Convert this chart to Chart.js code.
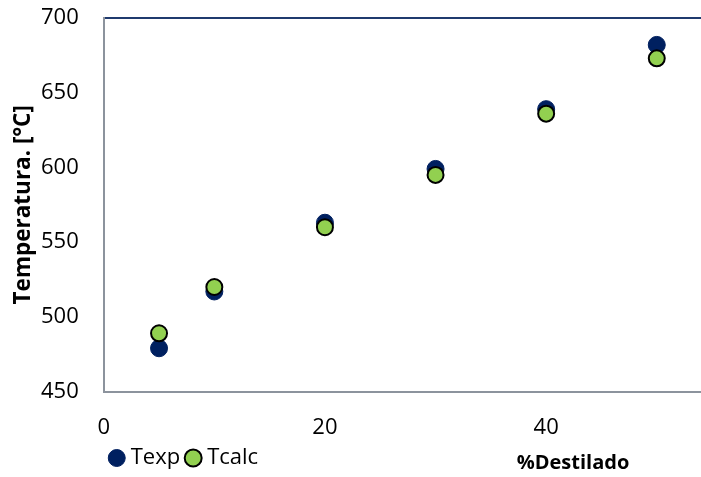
<!DOCTYPE html>
<html>
<head>
<meta charset="utf-8">
<script src="https://cdn.jsdelivr.net/npm/chart.js@4"></script>
<style>
  body { margin: 0; background: #fff; }
  #wrap { width: 701px; height: 477px; position: relative; }
</style>
</head>
<body>
<div id="wrap"><canvas id="chart"></canvas></div>
<script>
// values
const destilado = [5, 10, 20, 30, 40, 50];
const texp = [479, 517, 563, 599, 639, 682];
const tcalc = [489, 520, 560, 595, 636, 673];
const xTicks = [0, 20, 40];
const yTicks = [450, 500, 550, 600, 650, 700];

const fontFam = '"Open Sans", sans-serif';

// x title sits to the right under the axis, on the legend row
const xTitlePlugin = {
  id: 'xTitle',
  afterDraw(chart) {
    const ctx = chart.ctx;
    ctx.save();
    ctx.font = 'bold 20px ' + fontFam;
    ctx.fillStyle = '#000';
    ctx.textAlign = 'center';
    ctx.textBaseline = 'middle';
    ctx.fillText('%Destilado', chart.chartArea.right - 128, 463);
    ctx.restore();
  }
};

// hidden tick marks: they only push the labels away from the axis
function hiddenTicks(len) {
  return {
    display: true,
    drawOnChartArea: false,
    drawTicks: true,
    tickLength: len,
    tickColor: 'rgba(0,0,0,0)'
  };
}

new Chart(document.getElementById('chart'), {
  type: 'scatter',
  data: {
    datasets: [
      {
        label: 'Texp',
        data: destilado.map((x, i) => ({ x: x, y: texp[i] })),
        backgroundColor: '#002060',
        borderColor: '#002060',
        borderWidth: 1,
        pointRadius: 8.5,
        pointHoverRadius: 8.5,
        order: 1
      },
      {
        label: 'Tcalc',
        data: destilado.map((x, i) => ({ x: x, y: tcalc[i] })),
        backgroundColor: '#92D050',
        borderColor: '#000000',
        borderWidth: 2,
        pointRadius: 8,
        pointHoverRadius: 8,
        order: 0
      }
    ]
  },
  options: {
    responsive: true,
    maintainAspectRatio: false,
    animation: false,
    layout: { autoPadding: false, padding: { top: 18, right: 0, bottom: -2, left: 9 } },
    plugins: {
      tooltip: { enabled: false },
      legend: {
        position: 'bottom',
        align: 'start',
        fullSize: false,
        labels: {
          usePointStyle: true,
          pointStyle: 'circle',
          boxHeight: 12,
          boxWidth: 6,
          padding: 10,
          color: '#000',
          font: { family: fontFam, size: 22 },
          sort: (a, b) => a.datasetIndex - b.datasetIndex
        }
      }
    },
    scales: {
      x: {
        type: 'linear',
        min: 0,
        max: 54,
        afterBuildTicks: (scale) => { scale.ticks = xTicks.map(v => ({ value: v })); },
        afterFit: (scale) => { scale.height -= 4; },
        grid: hiddenTicks(23),
        border: { display: true, color: '#8C939D', width: 2 },
        ticks: { color: '#000', padding: 0, font: { family: fontFam, size: 22 } },
        title: { display: false, text: '%Destilado' }
      },
      x2: {
        type: 'linear',
        position: 'top',
        min: 0,
        max: 54,
        grid: { display: false, drawTicks: false },
        border: { display: true, color: '#1F3A6E', width: 2 },
        ticks: { display: false }
      },
      y: {
        min: 450,
        max: 700,
        afterBuildTicks: (scale) => { scale.ticks = yTicks.map(v => ({ value: v })); },
        grid: hiddenTicks(23),
        border: { display: true, color: '#8C939D', width: 2 },
        ticks: { color: '#000', padding: 2, font: { family: fontFam, size: 22 } },
        title: {
          display: true,
          text: 'Temperatura. [°C]',
          color: '#000',
          font: { family: fontFam, size: 22.5, weight: 'bold' },
          padding: { top: 1, bottom: 2 }
        }
      }
    }
  },
  plugins: [xTitlePlugin]
});
</script>
</body>
</html>
